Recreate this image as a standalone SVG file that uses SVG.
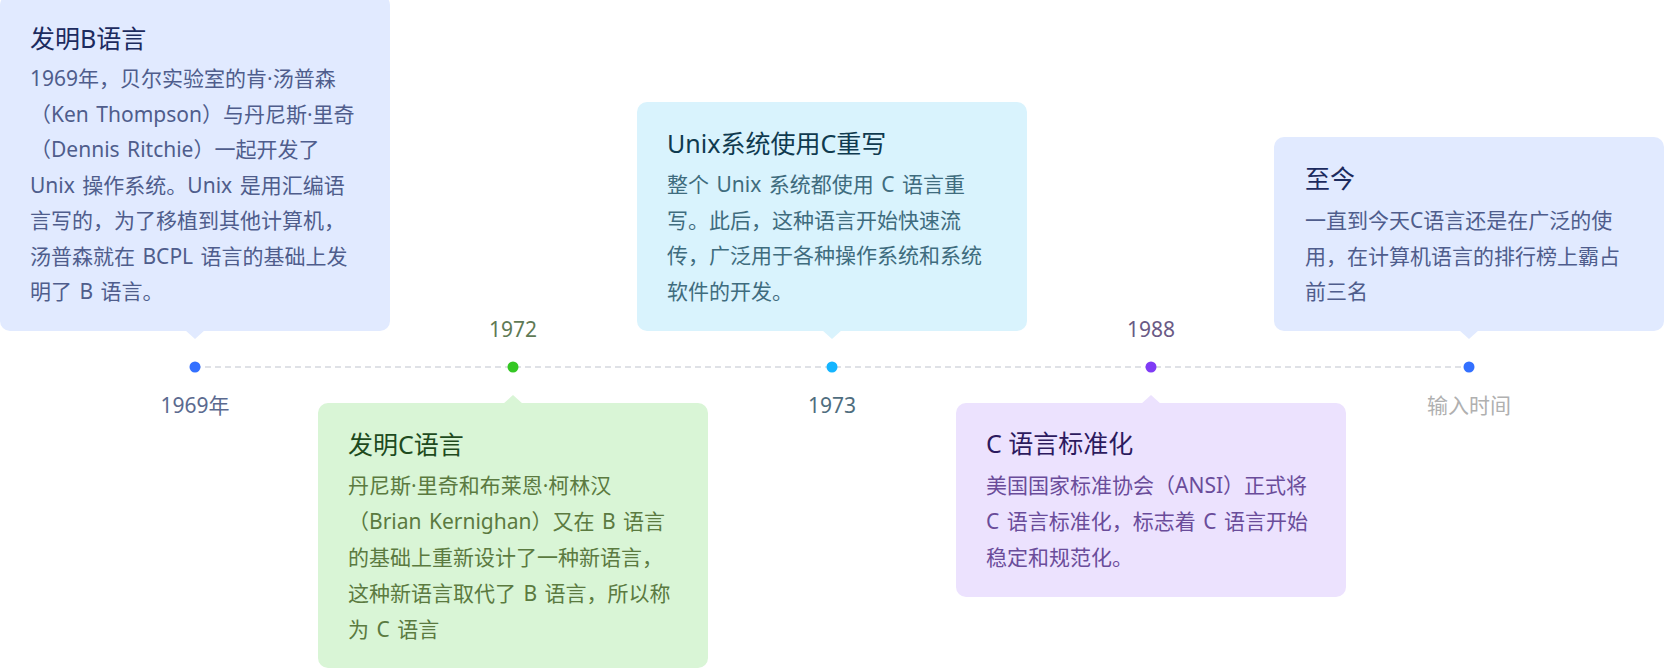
<svg xmlns="http://www.w3.org/2000/svg" width="1668" height="671" viewBox="0 0 1668 671">
<style>
text{font-family:"Noto Sans","Noto Sans CJK SC",sans-serif;}
.t{font-size:25px;}
.b{font-size:21px;word-spacing:2px;}
.lbl{font-size:21px;text-anchor:middle;}
.blue .bg{fill:#e1eaff;}
.blue .t{fill:#1c2b5e;}
.blue .b{fill:#4f5d8c;}
.green .bg{fill:#d9f5d6;}
.green .t{fill:#1e4a1d;}
.green .b{fill:#5b7a40;}
.cyan .bg{fill:#d9f3fd;}
.cyan .t{fill:#0f3a4f;}
.cyan .b{fill:#3f6c7e;}
.purple .bg{fill:#ece2fe;}
.purple .t{fill:#2c1a5e;}
.purple .b{fill:#6a4c9a;}
.axis{stroke:#d5d8de;stroke-width:1.5;stroke-dasharray:6 4;fill:none;}
</style>
<rect width="1668" height="671" fill="#ffffff"/>
<g id="connectors">
<line class="axis" x1="195" y1="367" x2="1469" y2="367"/>
</g>
<g id="node-1969" class="blue">
<rect class="bg" x="0" y="-5" width="390" height="336" rx="10"/>
<polygon class="bg" points="185,330 205,330 195,339"/>
<text class="t" x="30" y="48">发明B语言</text>
<text class="b" x="30" y="86">1969年，贝尔实验室的肯·汤普森</text>
<text class="b" x="30" y="121.5">（Ken Thompson）与丹尼斯·里奇</text>
<text class="b" x="30" y="157">（Dennis Ritchie）一起开发了</text>
<text class="b" x="30" y="192.5">Unix 操作系统。Unix 是用汇编语</text>
<text class="b" x="30" y="228">言写的，为了移植到其他计算机，</text>
<text class="b" x="30" y="263.5">汤普森就在 BCPL 语言的基础上发</text>
<text class="b" x="30" y="299">明了 B 语言。</text>
<circle cx="195" cy="367" r="5.5" fill="#3370ff"/>
<text class="lbl" x="195" y="413" fill="#5b6a8f">1969年</text>
</g>
<g id="node-1972" class="green">
<rect class="bg" x="318" y="403" width="390" height="265" rx="10"/>
<polygon class="bg" points="503,404 523,404 513,395"/>
<text class="t" x="348" y="454">发明C语言</text>
<text class="b" x="348" y="493">丹尼斯·里奇和布莱恩·柯林汉</text>
<text class="b" x="348" y="529">（Brian Kernighan）又在 B 语言</text>
<text class="b" x="348" y="565">的基础上重新设计了一种新语言，</text>
<text class="b" x="348" y="601">这种新语言取代了 B 语言，所以称</text>
<text class="b" x="348" y="636.5">为 C 语言</text>
<circle cx="513" cy="367" r="5.5" fill="#34c724"/>
<text class="lbl" x="513" y="337" fill="#5f7a55">1972</text>
</g>
<g id="node-1973" class="cyan">
<rect class="bg" x="637" y="102" width="390" height="229" rx="10"/>
<polygon class="bg" points="822,330 842,330 832,339"/>
<text class="t" x="667" y="153">Unix系统使用C重写</text>
<text class="b" x="667" y="192">整个 Unix 系统都使用 C 语言重</text>
<text class="b" x="667" y="227.5">写。此后，这种语言开始快速流</text>
<text class="b" x="667" y="263">传，广泛用于各种操作系统和系统</text>
<text class="b" x="667" y="298.5">软件的开发。</text>
<circle cx="832" cy="367" r="5.5" fill="#14b5ff"/>
<text class="lbl" x="832" y="413" fill="#4f6d7e">1973</text>
</g>
<g id="node-1988" class="purple">
<rect class="bg" x="956" y="403" width="390" height="194" rx="10"/>
<polygon class="bg" points="1141,404 1161,404 1151,395"/>
<text class="t" x="986" y="453">C 语言标准化</text>
<text class="b" x="986" y="493">美国国家标准协会（ANSI）正式将</text>
<text class="b" x="986" y="529">C 语言标准化，标志着 C 语言开始</text>
<text class="b" x="986" y="565">稳定和规范化。</text>
<circle cx="1151" cy="367" r="5.5" fill="#7f3bf5"/>
<text class="lbl" x="1151" y="337" fill="#6a5a85">1988</text>
</g>
<g id="node-now" class="blue">
<rect class="bg" x="1274" y="137" width="390" height="194" rx="10"/>
<polygon class="bg" points="1459,330 1479,330 1469,339"/>
<text class="t" x="1305" y="188">至今</text>
<text class="b" x="1305" y="228">一直到今天C语言还是在广泛的使</text>
<text class="b" x="1305" y="263.5">用，在计算机语言的排行榜上霸占</text>
<text class="b" x="1305" y="299">前三名</text>
<circle cx="1469" cy="367" r="5.5" fill="#3370ff"/>
<text class="lbl" x="1469" y="413" fill="#b0b0b0">输入时间</text>
</g>
</svg>
